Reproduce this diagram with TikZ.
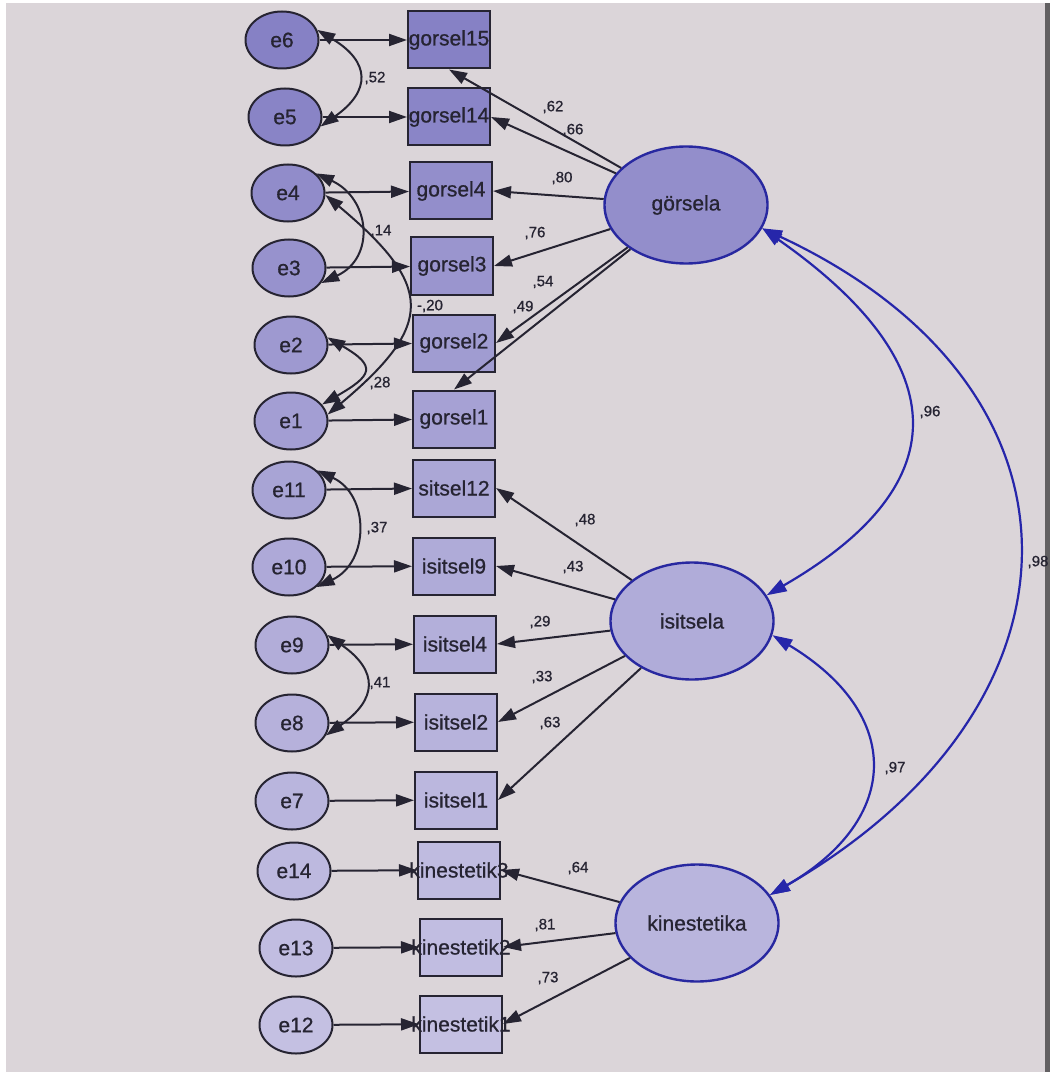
\documentclass[tikz,border=0pt]{standalone}
\usepackage{fontspec}
\setmainfont{Liberation Sans}[FakeBold=0.8]
\usetikzlibrary{shapes.geometric,arrows.meta}

\definecolor{bgscreen}{RGB}{219,213,217}
\definecolor{ink}{RGB}{38,36,50}
\definecolor{topfill}{RGB}{134,129,197}
\definecolor{botfill}{RGB}{200,196,228}
\definecolor{latline}{RGB}{40,40,160}
\definecolor{covblue}{RGB}{38,38,170}

\newcommand\nodefont{\fontsize{21}{24}\selectfont}
\newcommand\coeffont{\fontsize{15}{17}\selectfont}

\tikzset{
  errnode/.style={ellipse, draw=ink, line width=2pt, minimum width=73pt,
    minimum height=57pt, inner sep=0pt, font=\nodefont, text=ink, fill=topfill!#1!botfill},
  obsnode/.style={rectangle, draw=ink, line width=2pt, minimum width=82pt,
    minimum height=57pt, inner sep=0pt, font=\nodefont, text=ink, fill=topfill!#1!botfill},
  latnode/.style={ellipse, draw=latline, line width=2.4pt, minimum width=163pt,
    minimum height=117pt, inner sep=0pt, font=\nodefont, text=ink, fill=topfill!#1!botfill},
  regpath/.style={draw=ink, line width=2pt, -{Triangle[length=18pt,width=12pt]}},
  covpath/.style={draw=ink, line width=2pt,
    {Triangle[length=18pt,width=12pt]}-{Triangle[length=18pt,width=12pt]}},
  latcov/.style={draw=covblue, line width=2.2pt,
    {Triangle[length=20pt,width=13pt]}-{Triangle[length=20pt,width=13pt]}},
  coef/.style={font=\coeffont, text=ink, inner sep=0pt}
}

\begin{document}
\begin{tikzpicture}[x=1pt,y=1pt]
\useasboundingbox (0,0) rectangle (1055,-1075);
% screen background
\fill[bgscreen] (6,-3) rectangle (1046,-1072);
\fill[black!55!bgscreen] (1045,-3) rectangle (1050,-1072);

% error terms
\node[errnode=100] (e6)  at (282,-40)   {e6};
\node[errnode=96]  (e5)  at (285,-117)  {e5};
\node[errnode=84]  (e4)  at (288,-193)  {e4};
\node[errnode=74]  (e3)  at (289,-268)  {e3};
\node[errnode=64]  (e2)  at (291,-345)  {e2};
\node[errnode=56]  (e1)  at (291,-421)  {e1};
\node[errnode=48]  (e11) at (289,-490)  {e11};
\node[errnode=40]  (e10) at (289,-567)  {e10};
\node[errnode=34]  (e9)  at (292,-645)  {e9};
\node[errnode=28]  (e8)  at (292,-723)  {e8};
\node[errnode=22]  (e7)  at (292,-801)  {e7};
\node[errnode=16]  (e14) at (294,-871)  {e14};
\node[errnode=10]  (e13) at (296,-948)  {e13};
\node[errnode=6]   (e12) at (296,-1025) {e12};

% observed indicators
\node[obsnode=100] (g15) at (449,-40)   {\makebox[0pt]{gorsel15}};
\node[obsnode=94]  (g14) at (449,-117)  {\makebox[0pt]{gorsel14}};
\node[obsnode=80]  (g4)  at (451,-191)  {\makebox[0pt]{gorsel4}};
\node[obsnode=70]  (g3)  at (452,-266)  {\makebox[0pt]{gorsel3}};
\node[obsnode=60]  (g2)  at (454,-343)  {\makebox[0pt]{gorsel2}};
\node[obsnode=52]  (g1)  at (454,-419)  {\makebox[0pt]{gorsel1}};
\node[obsnode=44]  (i12) at (454,-488)  {\makebox[0pt]{sitsel12}};
\node[obsnode=38]  (i9)  at (454,-566)  {\makebox[0pt]{isitsel9}};
\node[obsnode=32]  (i4)  at (455,-644)  {\makebox[0pt]{isitsel4}};
\node[obsnode=26]  (i2)  at (456,-722)  {\makebox[0pt]{isitsel2}};
\node[obsnode=20]  (i1)  at (456,-800)  {\makebox[0pt]{isitsel1}};
\node[obsnode=14]  (k3)  at (459,-870)  {};
\node[obsnode=10]  (k2)  at (461,-947)  {};
\node[obsnode=6]   (k1)  at (461,-1024) {};

% latent factors
\node[latnode=80] (gors) at (686,-205) {görsela};
\node[latnode=36] (isit) at (692,-621) {isitsela};
\node[latnode=22] (kin)  at (697,-923) {kinestetika};

% error paths
\foreach \e/\o in {e6/g15,e5/g14,e4/g4,e3/g3,e2/g2,e1/g1,e11/i12,e10/i9,
                   e9/i4,e8/i2,e7/i1,e14/k3,e13/k2,e12/k1}
  \draw[regpath] (\e) -- (\o);

% loadings
\draw[regpath] (gors) -- (g15.south);
\draw[regpath] (gors) -- (g14.east);
\draw[regpath] (gors) -- (g4.east);
\draw[regpath] (gors) -- (g3.east);
\draw[regpath] (gors) -- (g2.east);
\draw[regpath] (gors) -- (g1.north);
\draw[regpath] (isit) -- (i12.east);
\draw[regpath] (isit) -- (i9.east);
\draw[regpath] (isit) -- (i4.east);
\draw[regpath] (isit) -- (i2.east);
\draw[regpath] (isit) -- (i1.east);
\draw[regpath] (kin) -- (k3.east);
\draw[regpath] (kin) -- (k2.east);
\draw[regpath] (kin) -- (k1.east);

% kinestetik labels sit over the arrow tips
\node[font=\nodefont, text=ink] (k3t) at (k3) {\makebox[0pt]{kinestetik3}};
\node[font=\nodefont, text=ink] (k2t) at (k2) {\makebox[0pt]{kinestetik2}};
\node[font=\nodefont, text=ink] (k1t) at (k1) {\makebox[0pt]{kinestetik1}};

% error covariances
\draw[covpath] (e6.16)  to[out=-31,in=35,looseness=1.64] (e5.-15);
\draw[covpath] (e4.35)  to[out=-25,in=25,looseness=1.4]  (e3.-25);
\draw[covpath] (e4.-3)  to[out=-40,in=40,looseness=1.64] (e1.10);
\draw[covpath] (e2.12)  to[out=-30,in=30,looseness=2.2]  (e1.28);
\draw[covpath] (e11.35) to[out=-25,in=25,looseness=1.28] (e10.-36);
\draw[covpath] (e9.16)  to[out=-35,in=35,looseness=1.6]  (e8.-20);

% factor covariances
\draw[latcov] (gors.-17) to[out=-35,in=30,looseness=1.59] (isit.19);
\draw[latcov] (gors.-17) to[out=-25,in=30,looseness=1.45] (kin.21);
\draw[latcov] (isit.-10) to[out=-31,in=30,looseness=1.5]  (kin.21);

% estimates
\node[coef] (c52) at (375,-78)  {,52};
\node[coef] (c62) at (553,-107) {,62};
\node[coef] (c66) at (573,-130) {,66};
\node[coef] (c80) at (562,-178) {,80};
\node[coef] (c14) at (381,-231) {,14};
\node[coef] (c76) at (535,-233) {,76};
\node[coef] (c54) at (543,-282) {,54};
\node[coef] (c20) at (430,-306) {-,20};
\node[coef] (c49) at (523,-307) {,49};
\node[coef] (c28) at (380,-383) {,28};
\node[coef] (c96) at (930,-412) {,96};
\node[coef] (c48) at (585,-520) {,48};
\node[coef] (c37) at (377,-528) {,37};
\node[coef] (c43) at (573,-567) {,43};
\node[coef] (c98) at (1038,-562) {,98};
\node[coef] (c29) at (540,-622) {,29};
\node[coef] (c33) at (542,-677) {,33};
\node[coef] (c41) at (380,-683) {,41};
\node[coef] (c63) at (550,-723) {,63};
\node[coef] (c97) at (895,-768) {,97};
\node[coef] (c64) at (578,-868) {,64};
\node[coef] (c81) at (545,-925) {,81};
\node[coef] (c73) at (548,-978) {,73};
\end{tikzpicture}
\end{document}
